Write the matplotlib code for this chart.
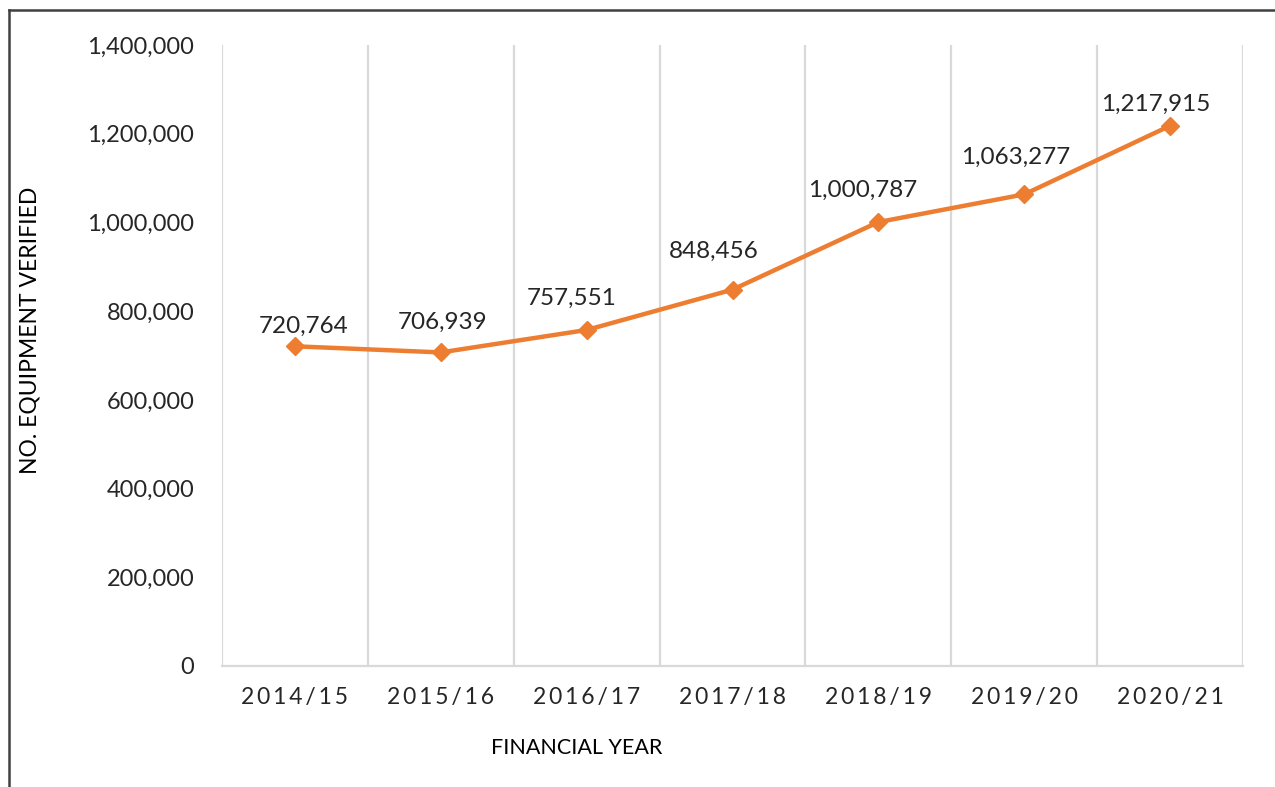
import matplotlib.pyplot as plt
from matplotlib.lines import Line2D
from matplotlib.ticker import FuncFormatter

plt.rcParams['font.family'] = ['Lato', 'DejaVu Sans']

years = ["2014/15", "2015/16", "2016/17", "2017/18", "2018/19", "2019/20", "2020/21"]
verified = [720764, 706939, 757551, 848456, 1000787, 1063277, 1217915]
y_ticks = [0, 200000, 400000, 600000, 800000, 1000000, 1200000, 1400000]

# hand-placed data label offsets (pixels from the marker)
label_dx = [9, 2, -15, -19, -16, -9, -14]
label_dy = [20, 30, 32, 38, 32, 37, 21]

W, H = 1275, 787
fig = plt.figure(figsize=(W / 100, H / 100), dpi=100)
ax = fig.add_axes([222 / W, (H - 666) / H, (1243 - 222) / W, (666 - 45) / H])

x = list(range(len(years)))
ax.plot(x, verified, color="#ED7D31", linewidth=3.2, marker="D", markersize=9,
        zorder=3, clip_on=False)

for xi, v, dx, dy in zip(x, verified, label_dx, label_dy):
    ax.annotate(f"{v:,}", (xi, v), xytext=(dx, dy), textcoords="offset pixels",
                ha="center", va="center", fontsize=17.5, color="#262626")

ax.set_xlim(-0.5, len(years) - 0.5)
ax.set_ylim(0, 1400000)
ax.set_yticks(y_ticks)
ax.yaxis.set_major_formatter(FuncFormatter(lambda v, p: f"{int(v):,}"))
ax.set_xticks(x)
spaced = ["\u2009".join(y) for y in years]
ax.set_xticklabels(spaced)

# category separators
for b in [i + 0.5 for i in x[:-1]]:
    ax.axvline(b, color="#d9d9d9", linewidth=1.6, zorder=1)

for s in ["top", "right", "left"]:
    ax.spines[s].set_visible(False)
ax.spines["bottom"].set_color("#d9d9d9")
ax.spines["bottom"].set_linewidth(1.6)
ax.axvline(-0.5, color="#d9d9d9", linewidth=1.6, zorder=1)
ax.axvline(len(years) - 0.5, color="#d9d9d9", linewidth=1.6, zorder=1)

ax.tick_params(axis="both", length=0, colors="#262626")
ax.tick_params(axis="y", pad=20, labelsize=17)
ax.tick_params(axis="x", pad=15, labelsize=16.5)

fig.text(30 / W, 1 - 330 / H, "NO. EQUIPMENT VERIFIED", rotation=90,
         ha="center", va="center", fontsize=16.5, color="#000000")
fig.text(577 / W, 1 - 748 / H, "FINANCIAL YEAR", ha="center", va="center",
         fontsize=15.5, color="#000000")

# outer frame
fig.add_artist(Line2D([9 / W, 1], [1 - 10 / H, 1 - 10 / H], color="#404040",
                      linewidth=1.8, transform=fig.transFigure))
fig.add_artist(Line2D([9 / W, 9 / W], [0, 1 - 10 / H], color="#404040",
                      linewidth=1.8, transform=fig.transFigure))

fig.savefig("out.png", dpi=100)
